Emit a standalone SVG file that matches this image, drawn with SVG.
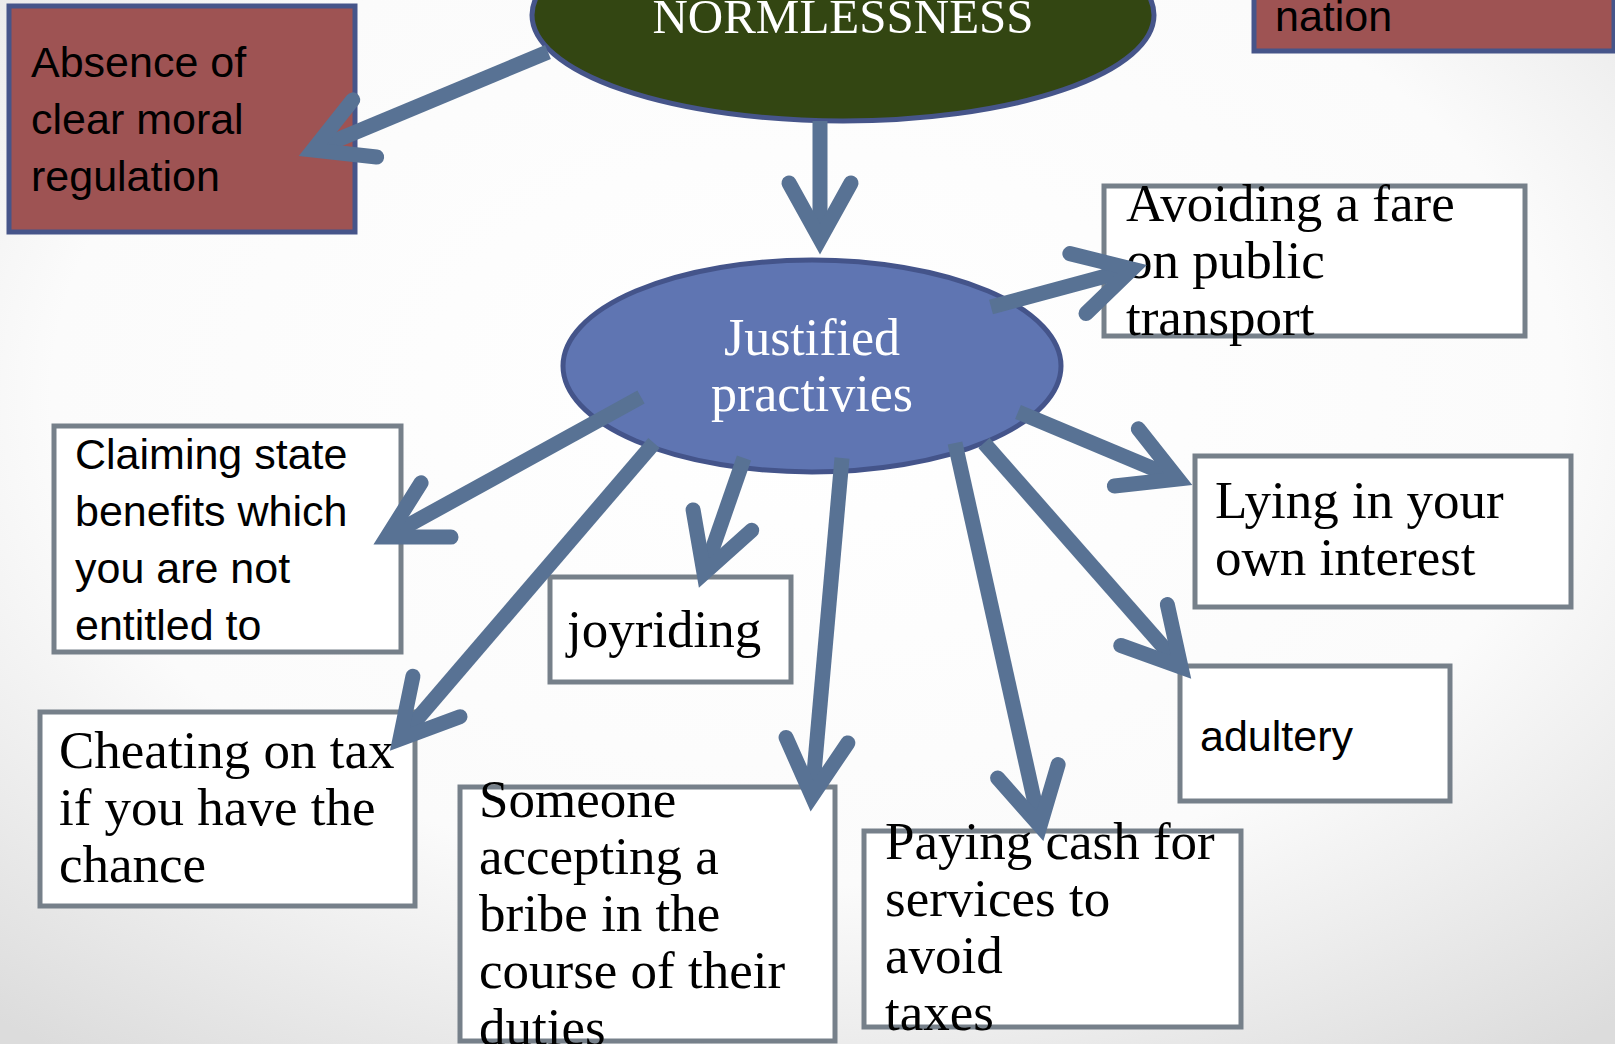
<svg xmlns="http://www.w3.org/2000/svg" width="1615" height="1044" viewBox="0 0 1615 1044">
<defs>
<radialGradient id="bg" cx="50%" cy="38%" r="78%">
<stop offset="0" stop-color="#ffffff"/>
<stop offset="0.6" stop-color="#fbfbfb"/>
<stop offset="1" stop-color="#dcdcdc"/>
</radialGradient>
<marker id="ah" markerUnits="userSpaceOnUse" orient="auto" overflow="visible" refX="0" refY="0" markerWidth="1" markerHeight="1">
<path d="M-56,-31 L0,0 L-56,31" fill="none" stroke="#587294" stroke-width="15" stroke-linecap="round" stroke-linejoin="miter" stroke-miterlimit="10"/>
</marker>
<style>
.red{fill:#9e5353;stroke:#46558a;stroke-width:5}
.box{fill:#ffffff;stroke:#76808a;stroke-width:5}
.sans{font-family:"Liberation Sans",Arial,sans-serif;font-size:43px;fill:#000}
.serif{font-family:"Liberation Serif","Times New Roman",serif;font-size:53px;fill:#000}
.wserif{font-family:"Liberation Serif","Times New Roman",serif;fill:#fff;text-anchor:middle}
.arr{fill:none;stroke:#587294;stroke-width:15;stroke-linecap:butt;marker-end:url(#ah)}
</style>
</defs>
<rect x="0" y="0" width="1615" height="1044" fill="url(#bg)"/>

<g id="normlessness">
<ellipse cx="843" cy="15" rx="311" ry="106" fill="#334612" stroke="#46558a" stroke-width="5"/>
<text class="wserif" x="843" y="33" font-size="49">NORMLESSNESS</text>
</g>

<g id="absence">
<rect class="red" x="9" y="6" width="346" height="226"/>
<text class="sans" x="31"><tspan x="31" y="77">Absence of</tspan><tspan x="31" y="134">clear moral</tspan><tspan x="31" y="191">regulation</tspan></text>
</g>

<g id="nation">
<rect class="red" x="1254" y="-10" width="360" height="61"/>
<text class="sans" x="1275" y="31">nation</text>
</g>

<g id="justified">
<ellipse cx="812" cy="366" rx="249" ry="106" fill="#5f75b2" stroke="#44548a" stroke-width="5"/>
<text class="wserif" font-size="52"><tspan x="812" y="355">Justified</tspan><tspan x="812" y="411">practivies</tspan></text>
</g>

<g id="avoiding">
<rect class="box" x="1104" y="186" width="421" height="150"/>
<text class="serif"><tspan x="1126" y="221">Avoiding a fare</tspan><tspan x="1126" y="278">on public</tspan><tspan x="1126" y="335">transport</tspan></text>
</g>

<g id="claiming">
<rect class="box" x="54" y="426" width="347" height="226"/>
<text class="sans"><tspan x="75" y="469">Claiming state</tspan><tspan x="75" y="526">benefits which</tspan><tspan x="75" y="583">you are not</tspan><tspan x="75" y="640">entitled to</tspan></text>
</g>

<g id="joyriding">
<rect class="box" x="550" y="577" width="241" height="105"/>
<text class="serif" x="567" y="647">joyriding</text>
</g>

<g id="cheating">
<rect class="box" x="40" y="712" width="375" height="194"/>
<text class="serif"><tspan x="59" y="768">Cheating on tax</tspan><tspan x="59" y="825">if you have the</tspan><tspan x="59" y="882">chance</tspan></text>
</g>

<g id="someone">
<rect class="box" x="460" y="787" width="375" height="254"/>
<text class="serif"><tspan x="479" y="817">Someone</tspan><tspan x="479" y="874">accepting a</tspan><tspan x="479" y="931">bribe in the</tspan><tspan x="479" y="988">course of their</tspan><tspan x="479" y="1045">duties</tspan></text>
</g>

<g id="paying">
<rect class="box" x="864" y="831" width="377" height="196"/>
<text class="serif"><tspan x="885" y="859">Paying cash for</tspan><tspan x="885" y="916">services to</tspan><tspan x="885" y="973">avoid</tspan><tspan x="885" y="1030">taxes</tspan></text>
</g>

<g id="lying">
<rect class="box" x="1195" y="456" width="376" height="151"/>
<text class="serif"><tspan x="1215" y="518">Lying in your</tspan><tspan x="1215" y="575">own interest</tspan></text>
</g>

<g id="adultery">
<rect class="box" x="1180" y="666" width="270" height="135"/>
<text class="sans" x="1200" y="751">adultery</text>
</g>

<g id="connectors">
<line class="arr" x1="548" y1="52" x2="313" y2="150"/>
<line class="arr" x1="820" y1="121" x2="820" y2="239"/>
<line class="arr" x1="991" y1="307" x2="1132" y2="269"/>
<line class="arr" x1="641" y1="397" x2="387" y2="537"/>
<line class="arr" x1="654" y1="443" x2="400" y2="739"/>
<line class="arr" x1="744" y1="458" x2="704" y2="573"/>
<line class="arr" x1="842" y1="458" x2="812" y2="796"/>
<line class="arr" x1="955" y1="443" x2="1040" y2="826"/>
<line class="arr" x1="984" y1="443" x2="1181" y2="667"/>
<line class="arr" x1="1018" y1="412" x2="1178" y2="479"/>
</g>
</svg>
